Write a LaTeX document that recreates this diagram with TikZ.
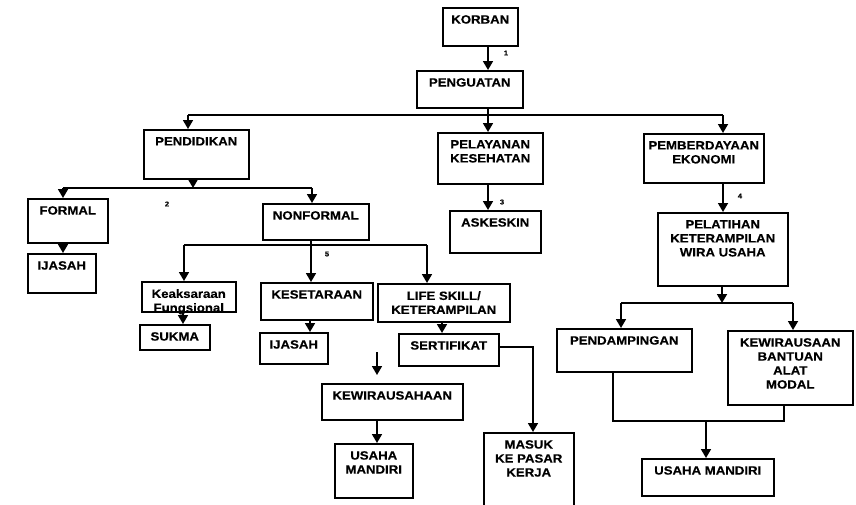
\documentclass[tikz,border=0pt]{standalone}
\usepackage{fontspec}
\setmainfont{Liberation Sans}[FakeStretch=1.1, BoldFeatures={FakeBold=0.4}]
\usetikzlibrary{arrows.meta,calc}
\tikzset{
  boxst/.style={draw, line width=1.5pt, inner sep=0pt, anchor=north west},
  txt/.style={font=\bfseries\fontsize{12}{14}\selectfont, align=center, inner sep=0pt, anchor=north},
  conn/.style={line width=1.7pt},
  arr/.style={conn, -{Triangle[width=10pt,length=9pt]}},
  num/.style={font=\bfseries\fontsize{7}{8}\selectfont, inner sep=0pt},
}
\newcommand\mybox[6]{%
  \node[boxst, minimum width={(#4-#2)*1pt}, minimum height={(#5-#3)*1pt}] (#1) at (#2,#3) {};
  \node[txt] (#1-t) at ([yshift=-8pt]#1.north) {#6};}
\begin{document}
\begin{tikzpicture}[x=1pt,y=-1pt]
\useasboundingbox (0,0) rectangle (856,504);
\fill[white] (0,0) rectangle (856,504);
\clip (0,0) rectangle (856,504);
% boxes
\mybox{korban}{442}{7}{517}{45}{KORBAN}
\mybox{penguatan}{416}{70}{522}{107}{PENGUATAN}
\mybox{pendidikan}{143}{129}{248}{178}{PENDIDIKAN}
\mybox{pelayanan}{437}{132}{542}{183}{PELAYANAN\\KESEHATAN}
\mybox{pemberdayaan}{643}{133}{763}{182}{PEMBERDAYAAN\\EKONOMI}
\mybox{formal}{27}{198}{107}{242}{FORMAL}
\mybox{nonformal}{262}{203}{368}{239}{NONFORMAL}
\mybox{askeskin}{449}{210}{540}{252}{ASKESKIN}
\mybox{pelatihan}{657}{212}{787}{285}{PELATIHAN\\KETERAMPILAN\\WIRA USAHA}
\mybox{ijasahA}{27}{253}{95}{292}{IJASAH}
\mybox{keaksaraan}{141}{281}{235}{311}{Keaksaraan\\Fungsional}
\mybox{kesetaraan}{260}{282}{372}{319}{KESETARAAN}
\mybox{lifeskill}{377}{283}{509}{321}{LIFE SKILL/\\KETERAMPILAN}
\mybox{sukma}{139}{324}{209}{349}{SUKMA}
\mybox{ijasahB}{259}{332}{327}{363}{IJASAH}
\mybox{sertifikat}{398}{333}{498}{365}{SERTIFIKAT}
\mybox{kewira}{321}{383}{462}{419}{KEWIRAUSAHAAN}
\mybox{usahaA}{334}{443}{412}{497}{USAHA\\MANDIRI}
\mybox{masuk}{483}{432}{573}{512}{MASUK\\KE PASAR\\KERJA}
\mybox{pendampingan}{556}{328}{691}{371}{PENDAMPINGAN}
\mybox{kewirausaaan}{727}{330}{852}{404}{KEWIRAUSAAN\\BANTUAN\\ALAT\\MODAL}
\mybox{usahaB}{641}{458}{773}{495}{USAHA MANDIRI}
% trunk coordinates
\coordinate (c1) at (488,0);
\coordinate (h1L) at (188,115);
\coordinate (h1R) at (723,115);
\coordinate (h2L) at (63,188);
\coordinate (h2M) at (193,188);
\coordinate (h2R) at (312,188);
\coordinate (h3L) at (184,245);
\coordinate (h3M) at (311,245);
\coordinate (h3R) at (427,245);
\coordinate (c4) at (183,0);
\coordinate (c5) at (310,0);
\coordinate (c6) at (442,0);
\coordinate (c7) at (533,0);
\coordinate (c8) at (377,0);
\coordinate (fa) at (377,352);
\coordinate (fb) at (377,375);
\coordinate (c9) at (723,0);
\coordinate (h4L) at (621,303);
\coordinate (h4M) at (722,303);
\coordinate (h4R) at (793,303);
\coordinate (m1) at (613,421);
\coordinate (mM) at (706,421);
\coordinate (m2) at (784,421);
% connectors
\draw[arr] (korban.south -| c1) -- (penguatan.north -| c1);
\draw[arr] (penguatan.south -| c1) -- (pelayanan.north -| c1);
\draw[conn] (h1L) -- (h1R);
\draw[arr] (h1L) -- (h1L |- pendidikan.north);
\draw[arr] (h1R) -- (h1R |- pemberdayaan.north);
\draw[arr] (pendidikan.south -| h2M) -- (h2M);
\draw[conn] (h2L) -- (h2R);
\draw[arr] (h2L) -- (h2L |- formal.north);
\draw[arr] (h2R) -- (h2R |- nonformal.north);
\draw[arr] (formal.south -| h2L) -- (ijasahA.north -| h2L);
\draw[conn] (nonformal.south -| h3M) -- (h3M);
\draw[arr] (h3M) -- (h3M |- kesetaraan.north);
\draw[conn] (h3L) -- (h3R);
\draw[arr] (h3L) -- (h3L |- keaksaraan.north);
\draw[arr] (h3R) -- (h3R |- lifeskill.north);
\draw[arr] (keaksaraan.south -| c4) -- (sukma.north -| c4);
\draw[arr] (kesetaraan.south -| c5) -- (ijasahB.north -| c5);
\draw[arr] (lifeskill.south -| c6) -- (sertifikat.north -| c6);
\draw[arr] ([yshift=3pt]sertifikat.east) -| (masuk.north -| c7);
\draw[arr] (fa) -- (fb);
\draw[arr] (kewira.south -| c8) -- (usahaA.north -| c8);
\draw[arr] (pelayanan.south -| c1) -- (askeskin.north -| c1);
\draw[arr] (pemberdayaan.south -| c9) -- (pelatihan.north -| c9);
\draw[arr] (pelatihan.south -| h4M) -- (h4M);
\draw[conn] (h4L) -- (h4R);
\draw[arr] (h4L) -- (h4L |- pendampingan.north);
\draw[arr] (h4R) -- (h4R |- kewirausaaan.north);
\draw[conn] (pendampingan.south -| m1) -- (m1) -- (m2) -- (kewirausaaan.south -| m2);
\draw[arr] (mM) -- (usahaB.north -| mM);
% step numbers
\node[num] (n1) at (506,53) {1};
\node[num] (n2) at (167,204) {2};
\node[num] (n3) at (502,202) {3};
\node[num] (n4) at (740,196) {4};
\node[num] (n5) at (327,254) {5};
\end{tikzpicture}
\end{document}
